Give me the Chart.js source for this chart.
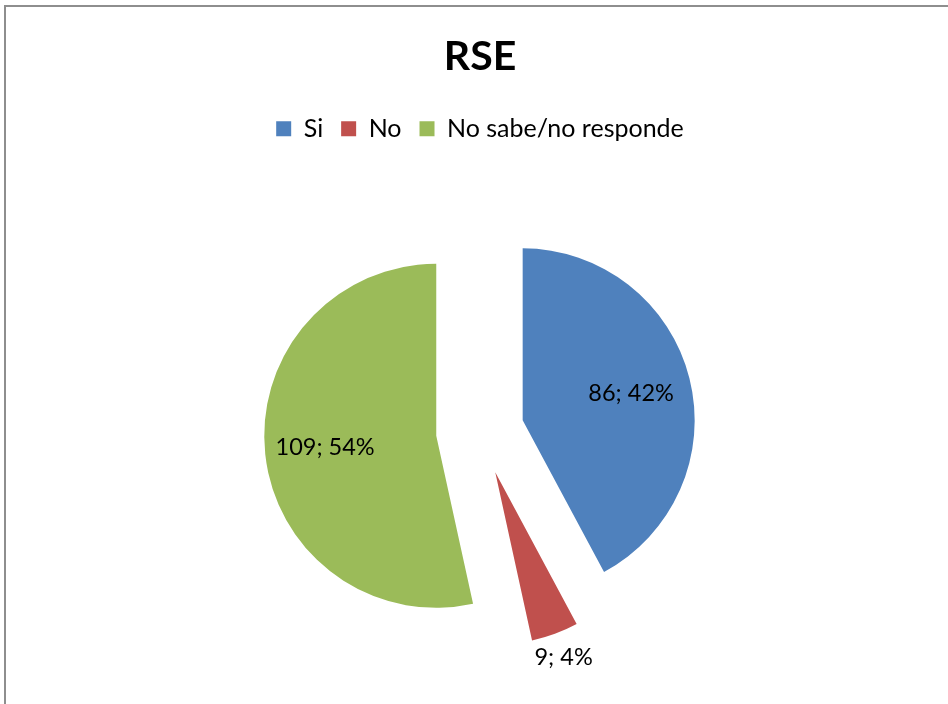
<!DOCTYPE html>
<html>
<head>
<meta charset="utf-8">
<script src="https://cdn.jsdelivr.net/npm/chart.js@4/dist/chart.umd.min.js"></script>
<style>
  html, body { margin: 0; padding: 0; overflow: hidden; background: #fff; }
  #frame { position: absolute; left: 4px; top: 5px; width: 1100px; height: 900px; border: 2px solid #8e8e8e; }
  #rseChart { position: absolute; left: 0; top: 0; }
</style>
</head>
<body>
<div id="frame"></div>
<canvas id="rseChart" width="948" height="711"></canvas>
<script>
// RSE pie chart data
const categories = ['Si', 'No', 'No sabe/no responde'];
const counts = [86, 9, 109];
const percentLabels = ['42%', '4%', '54%'];
const sliceColors = ['#4F81BD', '#C0504D', '#9BBB59'];

const EXPLODE = 44; // px each slice is pulled out from the centre

// pull every slice out along its middle angle (Excel style exploded pie)
const baseArcDraw = Chart.ArcElement.prototype.draw;
Chart.ArcElement.prototype.draw = function (ctx) {
    const mid = (this.startAngle + this.endAngle) / 2;
    ctx.save();
    ctx.translate(Math.cos(mid) * EXPLODE, Math.sin(mid) * EXPLODE);
    baseArcDraw.call(this, ctx);
    ctx.restore();
};

// "value; percent" labels, inside big slices and outside the small one
const sliceLabels = {
    id: 'sliceLabels',
    afterDatasetsDraw(chart) {
        const ctx = chart.ctx;
        const meta = chart.getDatasetMeta(0);
        ctx.save();
        ctx.font = '23.5px Lato';
        ctx.fillStyle = '#000';
        ctx.textAlign = 'center';
        ctx.textBaseline = 'middle';
        meta.data.forEach((arc, i) => {
            const mid = (arc.startAngle + arc.endAngle) / 2;
            const small = arc.circumference < 0.5;
            const dist = EXPLODE + (small ? arc.outerRadius + 25 : arc.outerRadius * 0.65);
            const x = arc.x + Math.cos(mid) * dist;
            const y = arc.y + Math.sin(mid) * dist;
            ctx.fillText(counts[i] + '; ' + percentLabels[i], x, y);
        });
        ctx.restore();
    }
};

const ctx = document.getElementById('rseChart').getContext('2d');
new Chart(ctx, {
    type: 'pie',
    data: {
        labels: categories,
        datasets: [{
            data: counts,
            backgroundColor: sliceColors,
            borderWidth: 0
        }]
    },
    options: {
        responsive: false,
        animation: false,
        radius: 172,
        layout: {
            padding: { left: 12 }
        },
        plugins: {
            title: {
                display: true,
                text: 'RSE',
                color: '#000',
                font: { family: 'Lato', size: 41, weight: 'bold' },
                padding: { top: 32, bottom: 17 }
            },
            legend: {
                position: 'top',
                labels: {
                    color: '#000',
                    font: { family: 'Lato', size: 25 },
                    boxWidth: 15,
                    boxHeight: 15,
                    padding: 18
                }
            },
            tooltip: { enabled: false }
        }
    },
    plugins: [sliceLabels]
});
</script>
</body>
</html>
